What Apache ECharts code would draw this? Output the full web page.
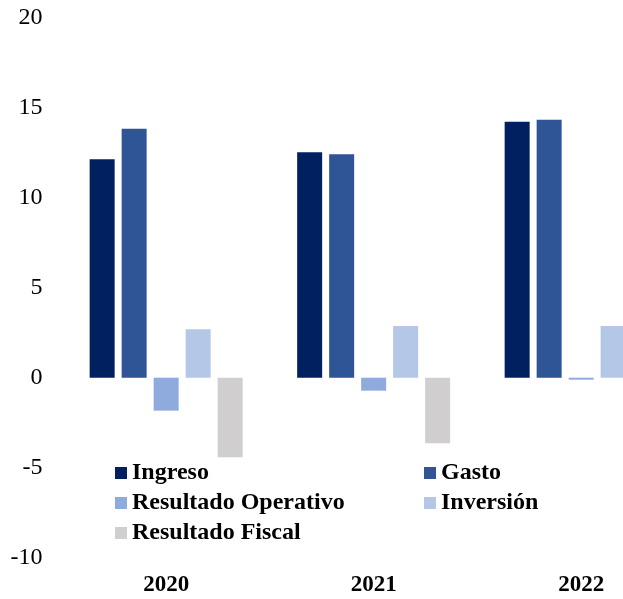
<!DOCTYPE html>
<html>
<head>
<meta charset="utf-8">
<script src="https://cdn.jsdelivr.net/npm/echarts@6/dist/echarts.min.js"></script>
<style>
  html, body { margin: 0; padding: 0; background: #fff; overflow: hidden; }
  /* wider than the window: the 2022 group runs off the right edge like in the source */
  #chart { width: 686px; height: 599px; }
</style>
</head>
<body>
<div id="chart"></div>
<script>
const years = ['2020', '2021', '2022'];
const ingreso = [12.13, 12.52, 14.22];
const gasto = [13.83, 12.41, 14.33];
const resultadoOperativo = [-1.83, -0.72, -0.11];
const inversion = [2.69, 2.87, 2.87];
const resultadoFiscal = [-4.42, -3.64, -3.0];

const font = '"Liberation Serif", "Times New Roman", serif';

const chart = echarts.init(document.getElementById('chart'));

const series = [
  { name: 'Ingreso', data: ingreso, color: '#002060' },
  { name: 'Gasto', data: gasto, color: '#2F5597' },
  { name: 'Resultado Operativo', data: resultadoOperativo, color: '#8FAADC' },
  { name: 'Inversión', data: inversion, color: '#B4C7E7' },
  { name: 'Resultado Fiscal', data: resultadoFiscal, color: '#D0CECE' },
].map((s) => ({
  name: s.name,
  type: 'bar',
  data: s.data,
  barWidth: 25,
  barGap: '28%',
  itemStyle: { color: s.color },
}));

// legend text, bold serif
const legendText = { fontFamily: font, fontSize: 24, lineHeight: 24, fontWeight: 'bold', color: '#000' };

const option = {
  animation: false,
  textStyle: { fontFamily: font },
  grid: { left: 62.4, top: 17.7, width: 622.5, height: 540 },
  legend: [
    {
      data: ['Ingreso', 'Resultado Operativo', 'Resultado Fiscal'],
      orient: 'vertical',
      left: 115, top: 461,
      padding: 0,
      itemWidth: 12, itemHeight: 12, itemGap: 6,
      icon: 'rect',
      textStyle: legendText,
    },
    {
      data: ['Gasto', 'Inversión'],
      orient: 'vertical',
      left: 424, top: 461,
      padding: 0,
      itemWidth: 12, itemHeight: 12, itemGap: 6,
      icon: 'rect',
      textStyle: legendText,
    },
  ],
  xAxis: {
    type: 'category',
    data: years,
    position: 'bottom',
    axisLine: { show: false },
    axisTick: { show: false },
    axisLabel: {
      margin: 16,
      fontFamily: font,
      fontSize: 23,
      fontWeight: 'bold',
      color: '#000',
    },
  },
  yAxis: {
    type: 'value',
    min: -10,
    max: 20,
    interval: 5,
    axisLine: { show: false },
    axisTick: { show: false },
    splitLine: { show: false },
    axisLabel: {
      margin: 20,
      fontFamily: font,
      fontSize: 24,
      color: '#000',
    },
  },
  series: series,
};

chart.setOption(option);
</script>
</body>
</html>
